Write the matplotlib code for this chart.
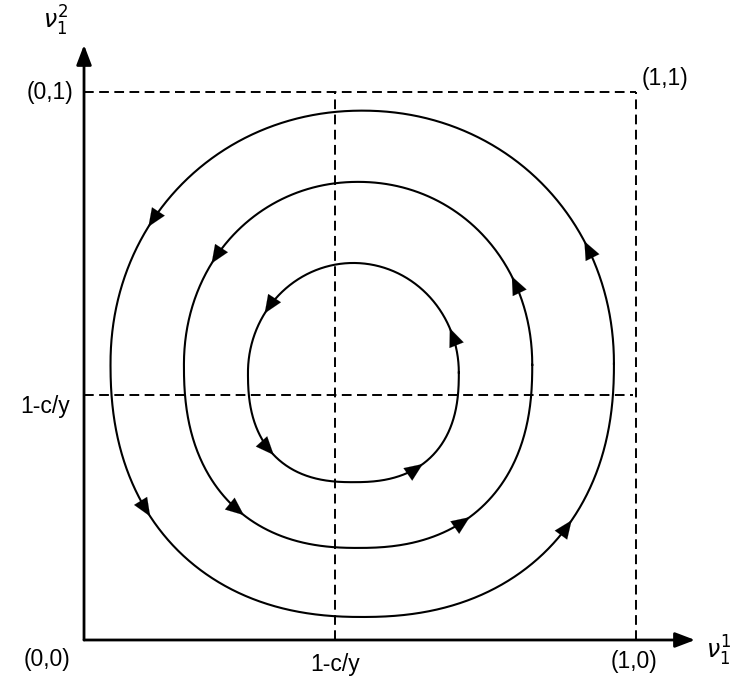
import numpy as np
import matplotlib
matplotlib.use('Agg')
import matplotlib.pyplot as plt

# equilibrium point 1-c/y on both axes
x_star = 0.455
y_star = 0.447

# closed orbits around the equilibrium: extents in the unit square
orbit_left = [0.048, 0.181, 0.297]
orbit_right = [0.960, 0.812, 0.679]
orbit_bottom = [0.042, 0.168, 0.288]
orbit_top = [0.966, 0.836, 0.688]
# squareness of upper and lower halves of each orbit
orbit_n_upper = [2.05, 2.05, 2.0]
orbit_n_lower = [2.25, 2.35, 2.45]

# polar angles (degrees) where the direction arrows sit on each orbit
arrow_angles = [
    [29, 147, 216, 323],
    [30, 145, 233, 306],
    [25, 146, 226, 307],
]

corner_labels = ['(0,0)', '(1,0)', '(0,1)', '(1,1)']
star_label = '1-c/y'


def orbit(left, right, bottom, top, n_up, n_lo, num=800):
    cx = (left + right) / 2
    cy = (bottom + top) / 2
    a = (right - left) / 2
    b = (top - bottom) / 2
    t = np.linspace(0, 2 * np.pi, num)
    c, s = np.cos(t), np.sin(t)
    n = np.where(s >= 0, n_up, n_lo)
    x = cx + a * np.sign(c) * np.abs(c) ** (2 / n)
    y = cy + b * np.sign(s) * np.abs(s) ** (2 / n)
    return x, y, cx, cy


fig = plt.figure(figsize=(7.35, 6.92), dpi=100)
ax = fig.add_axes([0, 0, 1, 1])
ax.set_xlim(-0.1522, 1.1793)
ax.set_ylim(-0.0949, 1.1679)
ax.axis('off')

# axes with arrow heads
arrow_kw = dict(arrowstyle='-|>,head_length=1.0,head_width=0.38',
                color='black', lw=2.0, mutation_scale=12, shrinkA=0, shrinkB=0)
ax.annotate('', xy=(1.107, 0), xytext=(0, 0), arrowprops=arrow_kw)
ax.annotate('', xy=(0, 1.086), xytext=(0, 0), arrowprops=arrow_kw)

dash = dict(color='black', lw=1.4, linestyle=(0, (5, 2.8)))
ax.plot([0, 1], [1, 1], **dash)
ax.plot([1, 1], [0, 1], **dash)
ax.plot([x_star, x_star], [0, 1], **dash)
ax.plot([0, 0.995], [y_star, y_star], **dash)

for i in range(len(orbit_left)):
    x, y, cx, cy = orbit(orbit_left[i], orbit_right[i], orbit_bottom[i],
                         orbit_top[i], orbit_n_upper[i], orbit_n_lower[i])
    ax.plot(x, y, color='black', lw=1.5)
    ang = np.degrees(np.arctan2(y - cy, x - cx)) % 360
    for a_deg in arrow_angles[i]:
        k = int(np.argmin(np.abs(ang - a_deg)))
        ax.annotate('', xy=(x[k], y[k]), xytext=(x[k - 6], y[k - 6]),
                    arrowprops=dict(arrowstyle='-|>,head_length=1.0,head_width=0.42',
                                    color='black', lw=0.1, mutation_scale=13,
                                    shrinkA=0, shrinkB=0))

font = dict(family='Liberation Sans', fontsize=16.5, color='black')
ax.text(-0.025, -0.035, corner_labels[0], ha='right', va='center', **font)
ax.text(0.997, -0.04, corner_labels[1], ha='center', va='center', **font)
ax.text(-0.02, 1.0, corner_labels[2], ha='right', va='center', **font)
ax.text(1.01, 1.025, corner_labels[3], ha='left', va='center', **font)
ax.text(x_star, -0.045, star_label, ha='center', va='center', **font)
ax.text(-0.025, y_star - 0.02, star_label, ha='right', va='center', **font)

ax.text(-0.075, 1.13, r'$\nu_1^2$', ha='left', va='center', fontsize=17)
ax.text(1.127, -0.02, r'$\nu_1^1$', ha='left', va='center', fontsize=17)

fig.savefig('out.png', dpi=100)
